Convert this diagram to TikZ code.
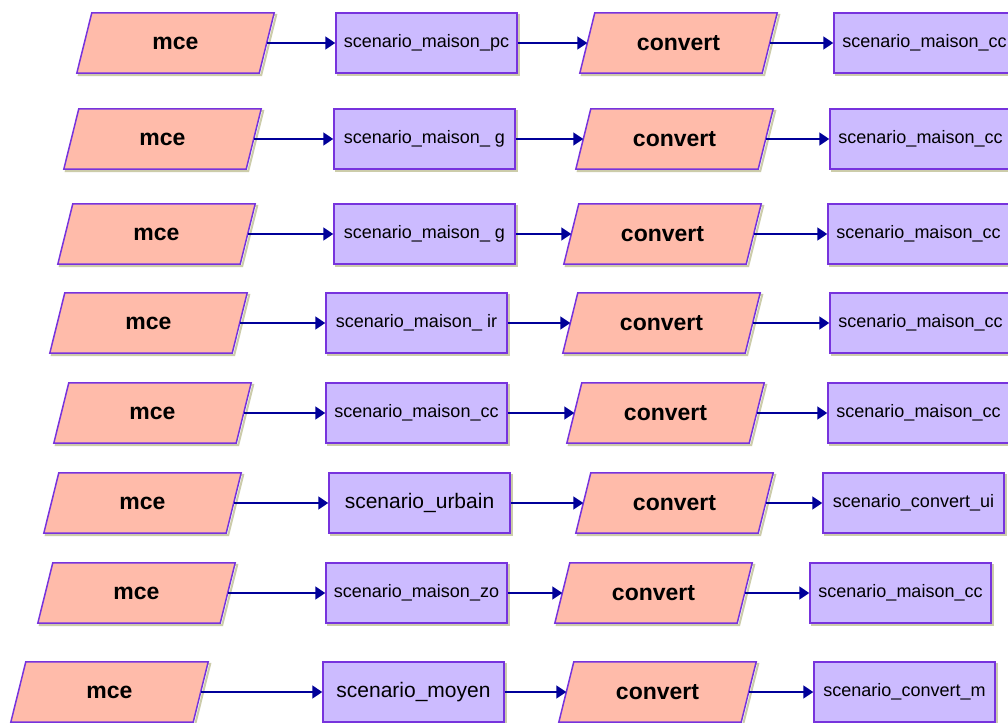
\documentclass[tikz,border=0pt]{standalone}
\usepackage{fontspec}
\setmainfont{Liberation Sans}
\usetikzlibrary{arrows.meta,backgrounds}
\definecolor{parafill}{RGB}{255,187,170}
\definecolor{boxfill}{RGB}{204,187,255}
\definecolor{edgec}{RGB}{119,51,221}
\definecolor{arrowc}{RGB}{0,0,153}
\definecolor{shadowc}{RGB}{204,204,170}
\begin{document}
\begin{tikzpicture}[x=1pt,y=-1pt,
  para/.style={rectangle, minimum width=182pt, minimum height=60pt, inner sep=0pt,
    font=\fontsize{23}{23}\selectfont\bfseries},
  databox/.style={rectangle, draw=edgec, line width=1.5pt, fill=boxfill,
    minimum width=181pt, minimum height=60pt, inner sep=0pt,
    font=\fontsize{18}{18}\selectfont,
    preaction={draw=shadowc, line width=2pt, transform canvas={xshift=2pt,yshift=-2pt}}},
  bigbox/.style={databox, font=\fontsize{21}{21}\selectfont},
  flow/.style={draw=arrowc, line width=1.5pt, -{Triangle[length=10pt,width=13pt]}}
]
\useasboundingbox (0,0) rectangle (1008,722);
\clip (0,0) rectangle (1008,722);
% row 1
\node[para] (m1) at (175.5,43) {mce};
\node[databox] (s1) at (426.5,43) {scenario\_maison\_pc};
\node[para] (c1) at (678.5,43) {convert};
\node[databox] (t1) at (924.5,43) {scenario\_maison\_cc};
% row 2
\node[para] (m2) at (162.5,139) {mce};
\node[databox] (s2) at (424.5,139) {scenario\_maison\_ g};
\node[para] (c2) at (674.5,139) {convert};
\node[databox] (t2) at (920.5,139) {scenario\_maison\_cc};
% row 3
\node[para] (m3) at (156.5,234) {mce};
\node[databox] (s3) at (424.5,234) {scenario\_maison\_ g};
\node[para] (c3) at (662.5,234) {convert};
\node[databox] (t3) at (918.5,234) {scenario\_maison\_cc};
% row 4
\node[para] (m4) at (148.5,323) {mce};
\node[databox] (s4) at (416.5,323) {scenario\_maison\_ ir};
\node[para] (c4) at (661.5,323) {convert};
\node[databox] (t4) at (920.5,323) {scenario\_maison\_cc};
% row 5
\node[para] (m5) at (152.5,413) {mce};
\node[databox] (s5) at (416.5,413) {scenario\_maison\_cc};
\node[para] (c5) at (665.5,413) {convert};
\node[databox] (t5) at (918.5,413) {scenario\_maison\_cc};
% row 6
\node[para] (m6) at (142.5,503) {mce};
\node[bigbox] (s6) at (419.5,503) {scenario\_urbain};
\node[para] (c6) at (674.5,503) {convert};
\node[databox] (t6) at (913.5,503) {scenario\_convert\_ui};
% row 7
\node[para] (m7) at (136.5,593) {mce};
\node[databox] (s7) at (416.5,593) {scenario\_maison\_zo};
\node[para] (c7) at (653.5,593) {convert};
\node[databox] (t7) at (900.5,593) {scenario\_maison\_cc};
% row 8
\node[para] (m8) at (109.5,692) {mce};
\node[bigbox] (s8) at (413.5,692) {scenario\_moyen};
\node[para] (c8) at (657.5,692) {convert};
\node[databox] (t8) at (904.5,692) {scenario\_convert\_m};
% connectors
\foreach \i in {1,...,8} {
  \draw[flow] (m\i) -- (s\i);
  \draw[flow] (s\i) -- (c\i);
  \draw[flow] (c\i) -- (t\i);
}
% parallelogram outlines behind the labels
\begin{scope}[on background layer]
  \fill[white] (0,0) rectangle (1008,722);
  \foreach \n in {m1,m2,m3,m4,m5,m6,m7,m8,c1,c2,c3,c4,c5,c6,c7,c8} {
    \draw[shadowc, line width=2pt]
      ([xshift=-5.5pt,yshift=-2pt]\n.south west) -- ([xshift=-5.5pt,yshift=-2pt]\n.south east)
      -- ([xshift=9.5pt,yshift=-2pt]\n.north east) -- ([xshift=9.5pt,yshift=-2pt]\n.north west) -- cycle;
    \filldraw[fill=parafill, draw=edgec, line width=1.5pt]
      ([xshift=-7.5pt]\n.south west) -- ([xshift=-7.5pt]\n.south east)
      -- ([xshift=7.5pt]\n.north east) -- ([xshift=7.5pt]\n.north west) -- cycle;
  }
\end{scope}
\end{tikzpicture}
\end{document}
